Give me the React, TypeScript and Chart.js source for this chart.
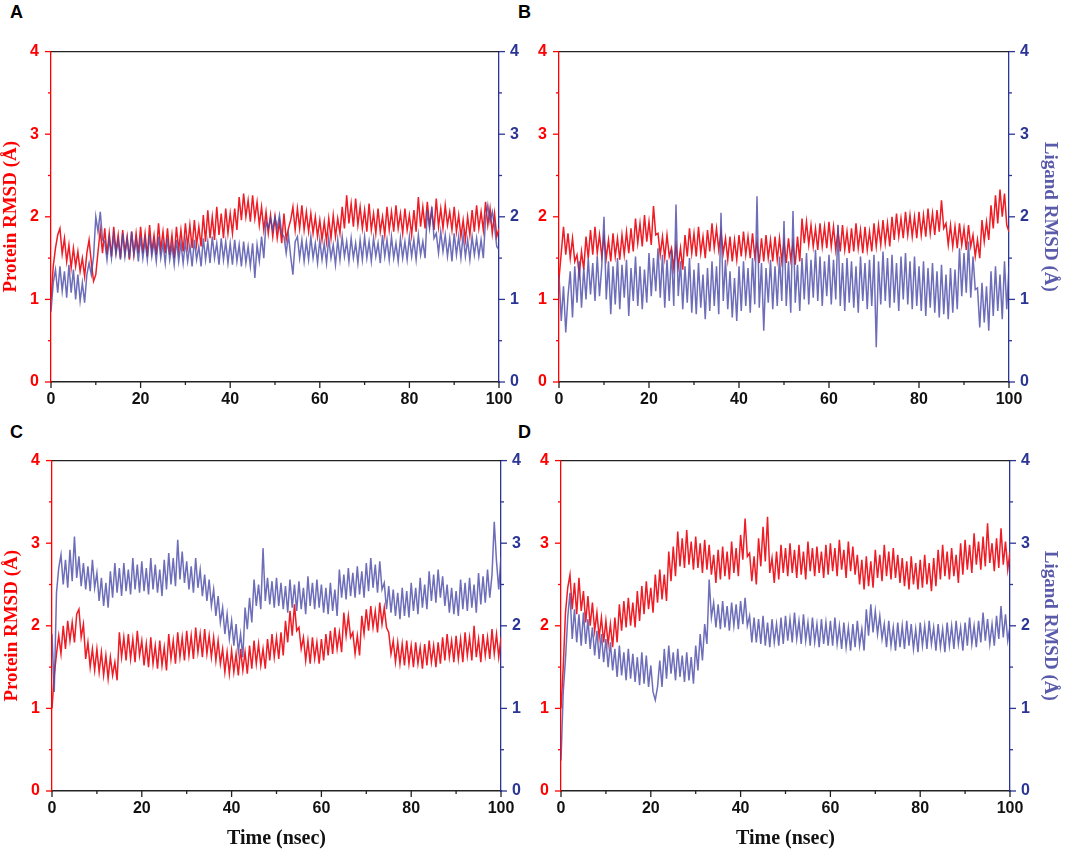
import { useEffect, useRef } from 'react'
import { Chart, registerables } from 'chart.js'

Chart.register(...registerables)

// frames every 0.5 ns, 0..100 ns
const TIME_STEP = 0.5
const X_LABELS = [0, 20, 40, 60, 80, 100]
const Y_LABELS = [0, 1, 2, 3, 4]

const proteinA = [
  1.00, 1.40, 1.62, 1.78, 1.86, 1.55, 1.74, 1.46, 1.66, 1.38, 1.62, 1.40, 1.58, 1.34, 1.50, 1.28, 1.56, 1.72, 1.45, 1.22,
  1.30, 1.58, 1.84, 1.56, 1.86, 1.54, 1.80, 1.52, 1.88, 1.58, 1.78, 1.50, 1.84, 1.56, 1.76, 1.48, 1.82, 1.54, 1.80, 1.56,
  1.88, 1.56, 1.80, 1.52, 1.90, 1.58, 1.78, 1.54, 1.92, 1.60, 1.82, 1.56, 1.86, 1.54, 1.78, 1.50, 1.88, 1.60, 1.84, 1.58,
  1.92, 1.64, 1.90, 1.62, 1.96, 1.66, 1.88, 1.64, 2.02, 1.70, 2.08, 1.74, 2.00, 1.72, 2.12, 1.78, 2.04, 1.74, 2.10, 1.80,
  2.04, 1.80, 2.10, 1.84, 2.24, 1.96, 2.28, 2.00, 2.20, 1.94, 2.26, 1.98, 2.18, 1.90, 2.12, 1.84, 2.06, 1.80, 2.02, 1.76,
  2.00, 1.74, 1.94, 1.68, 2.04, 1.72, 1.86, 1.96, 2.12, 1.84, 2.10, 1.86, 2.14, 1.84, 2.06, 1.82, 2.04, 1.80, 2.00, 1.76,
  1.96, 1.72, 1.94, 1.70, 1.98, 1.74, 2.02, 1.76, 1.98, 1.80, 2.12, 1.86, 2.26, 1.92, 2.16, 1.88, 2.22, 1.90, 2.12, 1.86,
  2.08, 1.82, 2.16, 1.84, 2.04, 1.80, 2.10, 1.82, 2.00, 1.78, 2.12, 1.84, 2.06, 1.82, 2.14, 1.86, 2.04, 1.80, 2.10, 1.84,
  2.02, 1.78, 2.08, 1.82, 2.24, 1.88, 2.12, 1.86, 2.18, 1.90, 2.08, 1.84, 2.22, 1.88, 2.10, 1.86, 2.14, 1.90, 2.06, 1.84,
  2.12, 1.82, 2.02, 1.76, 1.96, 1.72, 2.00, 1.78, 2.08, 1.82, 2.14, 1.86, 2.06, 1.84, 2.18, 1.90, 2.10, 1.80, 2.04, 1.76,
  1.86,
]

const ligandA = [
  0.85, 1.20, 1.36, 1.08, 1.40, 1.10, 1.34, 1.02, 1.42, 1.08, 1.36, 1.00, 1.30, 0.98, 1.20, 0.96, 1.30, 1.44, 1.30, 1.52,
  2.00, 1.82, 2.06, 1.72, 1.70, 1.48, 1.74, 1.50, 1.78, 1.54, 1.72, 1.48, 1.80, 1.52, 1.74, 1.50, 1.82, 1.54, 1.72, 1.46,
  1.76, 1.50, 1.72, 1.48, 1.78, 1.52, 1.70, 1.46, 1.76, 1.50, 1.68, 1.44, 1.74, 1.48, 1.66, 1.42, 1.72, 1.46, 1.68, 1.44,
  1.70, 1.46, 1.66, 1.40, 1.72, 1.48, 1.64, 1.40, 1.74, 1.48, 1.70, 1.44, 1.76, 1.50, 1.68, 1.42, 1.74, 1.48, 1.70, 1.44,
  1.68, 1.42, 1.72, 1.46, 1.66, 1.40, 1.70, 1.44, 1.64, 1.40, 1.68, 1.26, 1.66, 1.46, 1.76, 1.50, 1.94, 1.86, 1.98, 1.84,
  2.00, 1.86, 2.02, 1.80, 1.76, 1.56, 1.78, 1.52, 1.30, 1.70, 1.76, 1.50, 1.72, 1.46, 1.70, 1.48, 1.76, 1.50, 1.68, 1.44,
  1.72, 1.48, 1.68, 1.44, 1.74, 1.50, 1.66, 1.42, 1.72, 1.48, 1.76, 1.52, 1.70, 1.46, 1.74, 1.50, 1.68, 1.44, 1.72, 1.48,
  1.76, 1.50, 1.70, 1.46, 1.74, 1.52, 1.68, 1.44, 1.78, 1.52, 1.72, 1.48, 1.76, 1.50, 1.68, 1.46, 1.74, 1.50, 1.70, 1.48,
  1.76, 1.52, 1.72, 1.48, 1.78, 1.54, 1.70, 1.50, 2.08, 1.86, 2.12, 1.74, 1.80, 1.56, 1.82, 1.58, 1.78, 1.52, 1.74, 1.46,
  1.80, 1.54, 1.76, 1.50, 1.78, 1.52, 1.72, 1.48, 1.76, 1.54, 1.74, 1.52, 1.72, 1.50, 1.98, 2.14, 1.94, 2.06, 1.88, 1.64,
  1.60,
]

const proteinB = [
  1.25, 1.56, 1.88, 1.54, 1.80, 1.50, 1.74, 1.46, 1.54, 1.30, 1.58, 1.36, 1.76, 1.50, 1.84, 1.54, 1.88, 1.56, 1.78, 1.52,
  1.76, 1.50, 1.72, 1.46, 1.80, 1.52, 1.74, 1.48, 1.78, 1.54, 1.82, 1.56, 1.86, 1.58, 1.98, 1.68, 1.92, 1.64, 2.02, 1.70,
  1.94, 1.66, 2.13, 1.78, 1.80, 1.54, 1.76, 1.50, 1.78, 1.52, 1.62, 1.38, 1.66, 1.40, 1.62, 1.36, 1.78, 1.52, 1.86, 1.56,
  1.80, 1.52, 1.88, 1.56, 1.76, 1.50, 1.84, 1.58, 1.92, 1.62, 1.86, 1.60, 1.82, 1.56, 1.74, 1.48, 1.76, 1.46, 1.72, 1.48,
  1.78, 1.52, 1.82, 1.54, 1.76, 1.50, 1.80, 1.52, 1.70, 1.44, 1.74, 1.46, 1.78, 1.50, 1.72, 1.46, 1.76, 1.48, 1.74, 1.46,
  1.70, 1.44, 1.74, 1.48, 1.68, 1.42, 1.76, 1.46, 1.98, 1.68, 1.94, 1.66, 1.90, 1.64, 1.86, 1.60, 1.92, 1.64, 1.88, 1.62,
  1.94, 1.64, 1.88, 1.60, 1.84, 1.58, 1.90, 1.60, 1.82, 1.56, 1.86, 1.58, 1.92, 1.62, 1.84, 1.56, 1.88, 1.60, 1.82, 1.58,
  1.92, 1.64, 1.90, 1.66, 1.96, 1.68, 1.92, 1.64, 2.00, 1.72, 2.04, 1.76, 1.98, 1.74, 2.06, 1.78, 2.02, 1.76, 2.00, 1.74,
  2.06, 1.78, 2.02, 1.76, 2.10, 1.80, 2.04, 1.78, 2.08, 1.82, 2.20, 1.86, 1.92, 1.66, 1.90, 1.64, 1.88, 1.62, 1.92, 1.66,
  1.86, 1.60, 1.90, 1.64, 1.78, 1.52, 1.72, 1.50, 1.96, 1.70, 1.94, 1.72, 2.14, 1.86, 2.26, 1.92, 2.33, 2.00, 2.28, 1.90,
  1.82,
]

const ligandB = [
  1.30, 0.74, 1.16, 0.60, 1.04, 1.34, 0.78, 1.40, 0.96, 1.46, 0.90, 1.38, 1.00, 1.50, 1.06, 1.44, 0.98, 1.52, 1.04, 1.40,
  2.00, 1.00, 1.46, 0.82, 1.40, 0.94, 1.50, 0.88, 1.42, 1.02, 1.48, 0.80, 1.38, 0.98, 1.52, 0.92, 1.40, 0.88, 1.36, 0.96,
  1.56, 1.04, 1.50, 1.10, 1.62, 1.02, 1.54, 0.90, 1.48, 0.98, 1.60, 0.92, 2.15, 1.04, 1.46, 0.88, 1.40, 0.96, 1.50, 0.84,
  1.36, 0.82, 1.44, 0.90, 1.30, 0.76, 1.38, 0.86, 1.46, 0.92, 1.40, 0.82, 2.05, 0.98, 1.48, 0.88, 1.34, 0.78, 1.26, 0.74,
  1.40, 0.86, 1.46, 0.92, 1.38, 0.84, 1.50, 0.94, 2.25, 0.90, 1.44, 0.62, 1.38, 0.96, 1.48, 0.88, 1.40, 0.92, 1.52, 0.98,
  1.95, 0.92, 1.46, 0.84, 2.07, 0.96, 1.42, 0.86, 1.50, 1.00, 1.56, 0.94, 1.48, 1.02, 1.60, 0.98, 1.52, 0.92, 1.46, 1.04,
  1.54, 0.94, 1.48, 1.00, 1.90, 0.92, 1.44, 0.86, 1.50, 0.96, 1.46, 0.90, 1.40, 0.84, 1.52, 0.98, 1.44, 0.88, 1.48, 0.92,
  1.54, 0.42, 1.46, 0.94, 1.58, 0.98, 1.50, 0.90, 1.54, 0.96, 1.44, 0.86, 1.52, 1.00, 1.56, 0.94, 1.46, 0.88, 1.52, 0.92,
  1.40, 0.86, 1.46, 0.80, 1.38, 0.90, 1.44, 0.84, 1.34, 0.78, 1.42, 0.82, 1.30, 0.76, 1.38, 0.84, 1.36, 0.88, 1.62, 1.04,
  1.56, 1.08, 1.70, 1.02, 1.52, 1.12, 1.14, 0.66, 1.20, 0.72, 1.16, 0.62, 1.34, 0.80, 1.40, 0.86, 1.30, 0.76, 1.46, 0.88,
  1.40,
]

const proteinC = [
  1.00, 1.40, 1.66, 1.88, 1.66, 2.00, 1.72, 2.06, 1.82, 2.04, 1.80, 2.14, 2.20, 1.86, 2.02, 1.60, 1.80, 1.50, 1.72, 1.46,
  1.72, 1.44, 1.68, 1.40, 1.64, 1.36, 1.62, 1.40, 1.56, 1.34, 1.92, 1.62, 1.86, 1.58, 1.90, 1.60, 1.84, 1.56, 1.94, 1.64,
  1.82, 1.52, 1.78, 1.50, 1.86, 1.54, 1.76, 1.48, 1.82, 1.52, 1.74, 1.46, 1.90, 1.60, 1.82, 1.54, 1.92, 1.62, 1.86, 1.58,
  1.94, 1.64, 1.88, 1.60, 1.98, 1.68, 1.90, 1.62, 1.96, 1.66, 1.88, 1.62, 1.86, 1.58, 1.82, 1.54, 1.72, 1.44, 1.68, 1.42,
  1.70, 1.44, 1.66, 1.40, 1.72, 1.46, 1.68, 1.42, 1.76, 1.48, 1.82, 1.54, 1.78, 1.52, 1.72, 1.48, 1.84, 1.58, 1.90, 1.62,
  1.86, 1.60, 1.92, 1.64, 2.06, 1.80, 2.18, 1.88, 2.26, 1.94, 1.98, 1.72, 1.86, 1.58, 1.82, 1.54, 1.86, 1.60, 1.80, 1.54,
  1.84, 1.58, 1.90, 1.64, 1.94, 1.66, 1.98, 1.72, 1.92, 1.68, 2.16, 1.88, 2.12, 1.86, 1.92, 1.66, 1.88, 1.64, 2.12, 1.90,
  2.20, 1.94, 2.24, 1.98, 2.18, 1.92, 2.28, 2.02, 2.22, 1.98, 1.92, 1.66, 1.82, 1.56, 1.80, 1.54, 1.78, 1.52, 1.82, 1.54,
  1.76, 1.50, 1.80, 1.54, 1.74, 1.48, 1.78, 1.52, 1.82, 1.56, 1.76, 1.50, 1.80, 1.54, 1.86, 1.58, 1.90, 1.62, 1.82, 1.56,
  1.88, 1.60, 1.84, 1.56, 1.92, 1.64, 1.86, 1.58, 2.00, 1.62, 1.84, 1.56, 1.90, 1.64, 1.86, 1.60, 1.96, 1.66, 1.90, 1.62,
  1.86,
]

const ligandC = [
  1.90, 1.20, 2.40, 2.70, 2.86, 2.50, 2.80, 2.46, 2.92, 2.54, 3.08, 2.58, 2.84, 2.48, 2.76, 2.44, 2.72, 2.42, 2.80, 2.46,
  2.64, 2.30, 2.58, 2.24, 2.52, 2.22, 2.66, 2.34, 2.76, 2.40, 2.70, 2.36, 2.76, 2.42, 2.68, 2.38, 2.82, 2.44, 2.74, 2.40,
  2.78, 2.42, 2.70, 2.38, 2.82, 2.44, 2.74, 2.40, 2.68, 2.36, 2.80, 2.44, 2.88, 2.50, 2.82, 2.48, 3.04, 2.56, 2.90, 2.52,
  2.78, 2.44, 2.72, 2.40, 2.82, 2.46, 2.68, 2.36, 2.62, 2.30, 2.56, 2.24, 2.44, 2.12, 2.36, 2.04, 2.22, 1.90, 2.14, 1.84,
  2.06, 1.76, 2.02, 1.68, 1.90, 1.62, 2.22, 1.96, 2.34, 2.04, 2.56, 2.24, 2.50, 2.20, 2.94, 2.30, 2.58, 2.26, 2.54, 2.22,
  2.58, 2.24, 2.52, 2.20, 2.48, 2.16, 2.56, 2.22, 2.50, 2.18, 2.54, 2.20, 2.46, 2.14, 2.60, 2.24, 2.52, 2.20, 2.56, 2.22,
  2.50, 2.16, 2.46, 2.14, 2.52, 2.18, 2.44, 2.12, 2.68, 2.34, 2.62, 2.32, 2.70, 2.36, 2.64, 2.34, 2.72, 2.38, 2.66, 2.34,
  2.76, 2.42, 2.82, 2.46, 2.74, 2.40, 2.78, 2.44, 2.52, 2.20, 2.48, 2.16, 2.44, 2.12, 2.40, 2.08, 2.46, 2.12, 2.42, 2.10,
  2.52, 2.18, 2.46, 2.14, 2.58, 2.22, 2.50, 2.20, 2.66, 2.30, 2.62, 2.28, 2.68, 2.34, 2.60, 2.24, 2.50, 2.16, 2.46, 2.14,
  2.42, 2.12, 2.56, 2.20, 2.52, 2.18, 2.58, 2.22, 2.50, 2.16, 2.64, 2.26, 2.60, 2.28, 2.68, 2.34, 2.62, 3.26, 2.78, 2.44,
  2.84,
]

const proteinD = [
  1.00, 1.50, 2.16, 2.46, 2.62, 2.20, 2.52, 2.14, 2.58, 2.18, 2.42, 2.04, 2.36, 2.00, 2.28, 1.94, 2.16, 1.86, 2.10, 1.80,
  2.06, 1.78, 2.02, 1.74, 2.10, 1.80, 2.26, 1.94, 2.30, 1.98, 2.34, 2.00, 2.28, 1.98, 2.42, 2.06, 2.48, 2.14, 2.54, 2.20,
  2.46, 2.16, 2.62, 2.28, 2.68, 2.32, 2.62, 2.30, 2.90, 2.54, 2.96, 2.60, 3.14, 2.72, 3.06, 2.70, 3.16, 2.74, 3.02, 2.68,
  3.08, 2.70, 3.00, 2.64, 3.04, 2.68, 2.98, 2.62, 2.86, 2.52, 2.92, 2.56, 2.96, 2.60, 2.90, 2.56, 3.02, 2.64, 2.94, 2.60,
  3.10, 2.80, 3.30, 2.84, 2.88, 2.54, 2.84, 2.50, 3.06, 2.72, 3.20, 2.78, 3.32, 2.64, 2.82, 2.52, 2.90, 2.56, 2.98, 2.64,
  2.94, 2.60, 3.00, 2.64, 2.92, 2.58, 2.98, 2.62, 2.90, 2.56, 3.02, 2.66, 2.94, 2.60, 2.96, 2.64, 2.90, 2.58, 2.98, 2.62,
  3.00, 2.66, 2.94, 2.60, 3.04, 2.68, 2.92, 2.58, 3.02, 2.66, 2.96, 2.62, 2.86, 2.50, 2.80, 2.44, 2.84, 2.48, 2.78, 2.46,
  2.92, 2.58, 2.86, 2.54, 2.98, 2.60, 2.90, 2.56, 2.94, 2.58, 2.86, 2.52, 2.82, 2.48, 2.78, 2.44, 2.84, 2.50, 2.76, 2.44,
  2.80, 2.46, 2.86, 2.50, 2.76, 2.42, 2.82, 2.48, 2.92, 2.56, 2.98, 2.60, 2.90, 2.56, 2.94, 2.60, 2.86, 2.52, 3.00, 2.62,
  3.04, 2.68, 2.98, 2.64, 3.12, 2.74, 3.02, 2.68, 3.08, 2.72, 3.24, 2.76, 3.00, 2.66, 3.06, 2.70, 3.18, 2.74, 3.02, 2.68,
  2.90,
]

const ligandD = [
  0.37, 1.20, 1.60, 2.10, 2.40, 1.84, 2.20, 1.80, 2.14, 1.76, 2.16, 1.78, 2.08, 1.72, 1.98, 1.64, 1.94, 1.60, 1.90, 1.56,
  1.84, 1.50, 1.80, 1.46, 1.72, 1.38, 1.76, 1.40, 1.68, 1.34, 1.72, 1.36, 1.66, 1.32, 1.62, 1.28, 1.68, 1.30, 1.64, 1.26,
  1.52, 1.20, 1.10, 1.26, 1.58, 1.26, 1.72, 1.36, 1.76, 1.42, 1.68, 1.34, 1.72, 1.38, 1.64, 1.32, 1.68, 1.34, 1.62, 1.30,
  1.76, 1.46, 1.90, 1.58, 2.02, 1.78, 2.56, 2.10, 2.28, 1.98, 2.26, 1.96, 2.30, 1.98, 2.24, 1.94, 2.28, 2.00, 2.26, 1.96,
  2.30, 2.02, 2.34, 2.00, 2.12, 1.80, 2.10, 1.80, 2.08, 1.78, 2.12, 1.76, 2.04, 1.74, 2.08, 1.80, 2.02, 1.76, 2.10, 1.78,
  2.12, 1.82, 2.08, 1.80, 2.16, 1.84, 2.06, 1.78, 2.14, 1.82, 2.04, 1.76, 2.10, 1.80, 2.02, 1.74, 2.08, 1.78, 2.04, 1.76,
  2.06, 1.76, 2.10, 1.78, 2.00, 1.72, 2.04, 1.74, 1.98, 1.70, 2.02, 1.74, 2.06, 1.76, 1.96, 1.70, 2.20, 1.88, 2.26, 1.92,
  2.18, 1.90, 2.12, 1.84, 2.02, 1.74, 2.06, 1.76, 1.98, 1.70, 2.04, 1.74, 2.00, 1.72, 2.06, 1.76, 2.02, 1.72, 1.96, 1.68,
  2.04, 1.76, 2.00, 1.72, 2.06, 1.78, 1.98, 1.70, 2.02, 1.74, 1.96, 1.68, 2.04, 1.76, 2.00, 1.72, 2.06, 1.78, 1.98, 1.70,
  2.04, 1.76, 2.10, 1.78, 2.00, 1.74, 2.06, 1.80, 2.16, 1.82, 2.08, 1.78, 2.02, 1.76, 2.12, 1.84, 2.24, 1.86, 2.14, 1.82,
  2.00,
]

const RED_AXIS = '#ff0000'
const RED_LINE = '#ee1c25'
const BLUE_AXIS = '#2b3595'
const BLUE_LINE = 'rgba(72, 72, 168, 0.8)'
const BLUE_TITLE = '#5b5bab'
const TICK_FONT = { family: '"Liberation Sans", Arial, sans-serif', size: 16, weight: 'bold' as const }
const TITLE_FONT = { family: '"Liberation Serif", "Times New Roman", serif', size: 19, weight: 'bold' as const, lineHeight: 0.8 }

const toPoints = (vals: number[]) => vals.map((v, i) => ({ x: i * TIME_STEP, y: v }))

// top frame line plus major / minor tick marks
const frame = {
  id: 'frame',
  afterDraw(chart: Chart) {
    const { ctx, chartArea: a, scales } = chart
    ctx.save()
    ctx.lineWidth = 1.3
    ctx.strokeStyle = '#222'
    ctx.beginPath()
    ctx.moveTo(a.left, a.top)
    ctx.lineTo(a.right, a.top)
    ctx.stroke()

    const seg = (x1: number, y1: number, x2: number, y2: number) => {
      ctx.beginPath()
      ctx.moveTo(x1, y1)
      ctx.lineTo(x2, y2)
      ctx.stroke()
    }
    scales.x.ticks.forEach(t => {
      const px = scales.x.getPixelForValue(t.value)
      seg(px, a.bottom, px, a.bottom + (X_LABELS.includes(t.value) ? 6 : 3))
    })
    ctx.strokeStyle = RED_AXIS
    scales.y.ticks.forEach(t => {
      const py = scales.y.getPixelForValue(t.value)
      seg(a.left, py, a.left - (Y_LABELS.includes(t.value) ? 6 : 3), py)
    })
    ctx.strokeStyle = BLUE_AXIS
    scales.y1.ticks.forEach(t => {
      const py = scales.y1.getPixelForValue(t.value)
      seg(a.right, py, a.right + (Y_LABELS.includes(t.value) ? 6 : 3), py)
    })
    ctx.restore()
  },
}

interface PanelProps {
  protein: number[]
  ligand: number[]
  left: number
  top: number
  width: number
  height: number
  leftW: number
  rightW: number
  bottomH: number
  proteinTitle?: boolean
  ligandTitle?: boolean
  timeTitle?: boolean
}

function Panel(p: PanelProps) {
  const canvasRef = useRef<HTMLCanvasElement>(null)

  useEffect(() => {
    if (!canvasRef.current) return
    const yTicks = (color: string, padding: number) => ({
      stepSize: 0.5,
      autoSkip: false,
      color,
      padding,
      font: TICK_FONT,
      callback: (v: number | string) => (Y_LABELS.includes(Number(v)) ? String(v) : ''),
    })
    const chart = new Chart(canvasRef.current, {
      type: 'line',
      data: {
        datasets: [
          {
            label: 'Ligand RMSD',
            data: toPoints(p.ligand),
            yAxisID: 'y1',
            borderColor: BLUE_LINE,
            borderWidth: 1.5,
            pointRadius: 0,
            tension: 0,
          },
          {
            label: 'Protein RMSD',
            data: toPoints(p.protein),
            yAxisID: 'y',
            borderColor: RED_LINE,
            borderWidth: 1.5,
            pointRadius: 0,
            tension: 0,
          },
        ],
      },
      options: {
        responsive: true,
        maintainAspectRatio: false,
        animation: false,
        layout: { padding: { top: 12, left: 0, right: 0, bottom: 0 } },
        plugins: { legend: { display: false }, tooltip: { enabled: false } },
        scales: {
          x: {
            type: 'linear',
            min: 0,
            max: 100,
            afterFit: (s: any) => { s.height = p.bottomH },
            border: { color: '#222', width: 1.6 },
            grid: { drawOnChartArea: false, tickLength: 6, tickColor: 'transparent' },
            ticks: {
              stepSize: 10,
              autoSkip: false,
              maxRotation: 0,
              color: '#111',
              padding: 2,
              font: TICK_FONT,
              callback: (v: number | string) => (X_LABELS.includes(Number(v)) ? String(v) : ''),
            },
            title: {
              display: !!p.timeTitle,
              text: 'Time (nsec)',
              color: '#111',
              font: { ...TITLE_FONT, size: 20, lineHeight: 1 },
              padding: { top: 0, bottom: 0 },
            },
          },
          y: {
            type: 'linear',
            position: 'left',
            min: 0,
            max: 4,
            afterFit: (s: any) => { s.width = p.leftW },
            border: { color: RED_AXIS, width: 1.3 },
            grid: { drawOnChartArea: false, tickLength: 6, tickColor: 'transparent' },
            ticks: yTicks(RED_AXIS, 6),
            title: {
              display: !!p.proteinTitle,
              text: 'Protein RMSD (Å)',
              color: RED_AXIS,
              font: TITLE_FONT,
              padding: { top: 3, bottom: 0 },
            },
          },
          y1: {
            type: 'linear',
            position: 'right',
            min: 0,
            max: 4,
            afterFit: (s: any) => { s.width = p.rightW },
            border: { color: BLUE_AXIS, width: 1.3 },
            grid: { drawOnChartArea: false, tickLength: 6, tickColor: 'transparent' },
            ticks: yTicks(BLUE_AXIS, 5),
            title: {
              display: !!p.ligandTitle,
              text: 'Ligand RMSD (Å)',
              color: BLUE_TITLE,
              font: TITLE_FONT,
              padding: { top: 7, bottom: 0 },
            },
          },
        },
      },
      plugins: [frame],
    } as any)
    return () => { chart.destroy() }
  }, [p])

  return (
    <div style={{ position: 'absolute', left: p.left, top: p.top, width: p.width, height: p.height }}>
      <canvas ref={canvasRef} />
    </div>
  )
}

const letterStyle = {
  position: 'absolute' as const,
  fontFamily: '"Liberation Sans", Arial, sans-serif',
  fontWeight: 'bold' as const,
  fontSize: 18,
  lineHeight: '18px',
  color: '#000',
}

export default function App() {
  return (
    <div style={{ position: 'fixed', left: 0, top: 0, width: 1065, height: 854, background: '#fff', overflow: 'hidden' }}>
      <div style={{ ...letterStyle, left: 10, top: 3 }}>A</div>
      <div style={{ ...letterStyle, left: 518, top: 3 }}>B</div>
      <div style={{ ...letterStyle, left: 10, top: 423 }}>C</div>
      <div style={{ ...letterStyle, left: 518, top: 423 }}>D</div>
      <Panel protein={proteinA} ligand={ligandA} left={0} top={36} width={530} height={380}
        leftW={51} rightW={31} bottomH={34} proteinTitle />
      <Panel protein={proteinB} ligand={ligandB} left={509} top={36} width={556} height={380}
        leftW={50} rightW={56} bottomH={34} ligandTitle />
      <Panel protein={proteinC} ligand={ligandC} left={1} top={445} width={531} height={404}
        leftW={51} rightW={31} bottomH={58} proteinTitle timeTitle />
      <Panel protein={proteinD} ligand={ligandD} left={510} top={445} width={555} height={404}
        leftW={51} rightW={55} bottomH={58} ligandTitle timeTitle />
    </div>
  )
}
